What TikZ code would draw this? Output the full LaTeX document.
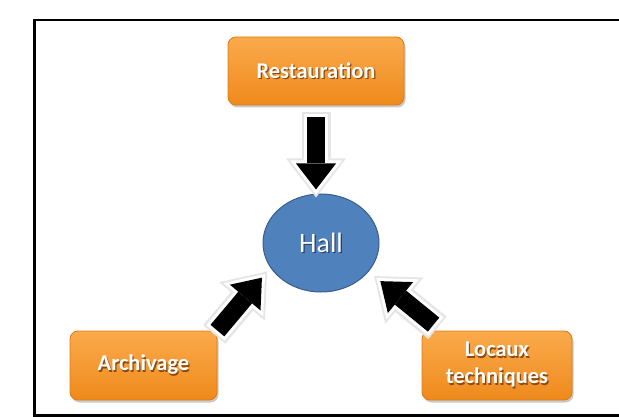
\documentclass[tikz,border=0pt]{standalone}
\usepackage{fontspec}
\setmainfont{Carlito}
\usetikzlibrary{arrows.meta,shadows,calc,shapes.geometric}

\definecolor{boxtop}{HTML}{FBAA4C}
\definecolor{boxbot}{HTML}{EE8A1C}
\definecolor{boxline}{HTML}{E07A10}
\definecolor{hallfill}{HTML}{4F81BD}
\definecolor{hallline}{HTML}{385D8A}
\definecolor{shadeorange}{HTML}{8A4A12}
\definecolor{shadeblue}{HTML}{243C5E}

% white label with a small dark cast shadow behind it
\newcommand{\castshadow}[2]{\leavevmode\rlap{\kern1.2pt\raisebox{-1.2pt}{\textcolor{#1}{#2}}}#2}

\tikzset{
  orangebox/.style={rectangle, rounded corners=8pt, draw=boxline, line width=0.8pt,
    top color=boxtop, bottom color=boxbot, text=white, inner sep=0pt,
    font=\fontsize{22.5}{27}\selectfont\bfseries, align=center,
    drop shadow={shadow xshift=1.5pt, shadow yshift=-2.5pt, opacity=0.3, fill=black!70}},
  hallnode/.style={ellipse, draw=hallline, line width=1pt, fill=hallfill,
    text=white, inner sep=0pt, font=\fontsize{28}{32}\selectfont},
  blockarrow/.style n args={2}{
    line width=18pt, draw=black,
    -{Triangle[width=40pt,length=26pt,line width=0pt]},
    shorten <=#1pt, shorten >=#2pt,
    preaction={draw=black!10, line width=29pt,
      -{Triangle[width=60pt,length=39pt,line width=0pt]},
      shorten <={#1pt-5pt}, shorten >={#2pt-8pt}},
    preaction={draw=white, line width=24pt,
      -{Triangle[width=52pt,length=34pt,line width=0pt]},
      shorten <={#1pt-3pt}, shorten >={#2pt-5pt}}},
  frameline/.style={line width=2.5pt, draw=black}
}

\begin{document}
\begin{tikzpicture}[x=1pt,y=-1pt]
\useasboundingbox (0,0) rectangle (619,417);

% outer frame, open on the right
\draw[frameline] (625,20) -| (34.5,415.5) -- (625,415.5);

% the four rooms
\node[orangebox, minimum width=176pt, minimum height=68pt] (rest) at (316,71)
  {\castshadow{shadeorange}{Restauration}};
\node[orangebox, minimum width=147pt, minimum height=69pt] (arch) at (143.5,365.5)
  {\castshadow{shadeorange}{Archivage}};
\node[orangebox, minimum width=150pt, minimum height=69pt] (loc) at (497,365.5)
  {\castshadow{shadeorange}{Locaux}\\\castshadow{shadeorange}{techniques}};
\node[hallnode, minimum width=116pt, minimum height=98pt] (hall) at (321,243)
  {\castshadow{shadeblue}{Hall}};

% block arrows leading into the hall
\draw[blockarrow={12}{4}] (rest.south) -- (rest.south |- hall.north);
\draw[blockarrow={0}{13}] (arch.north east) -- (hall.206);
\draw[blockarrow={0}{15}] ($(loc.north west)+(12,-6)$) -- (hall.329);
\end{tikzpicture}
\end{document}
